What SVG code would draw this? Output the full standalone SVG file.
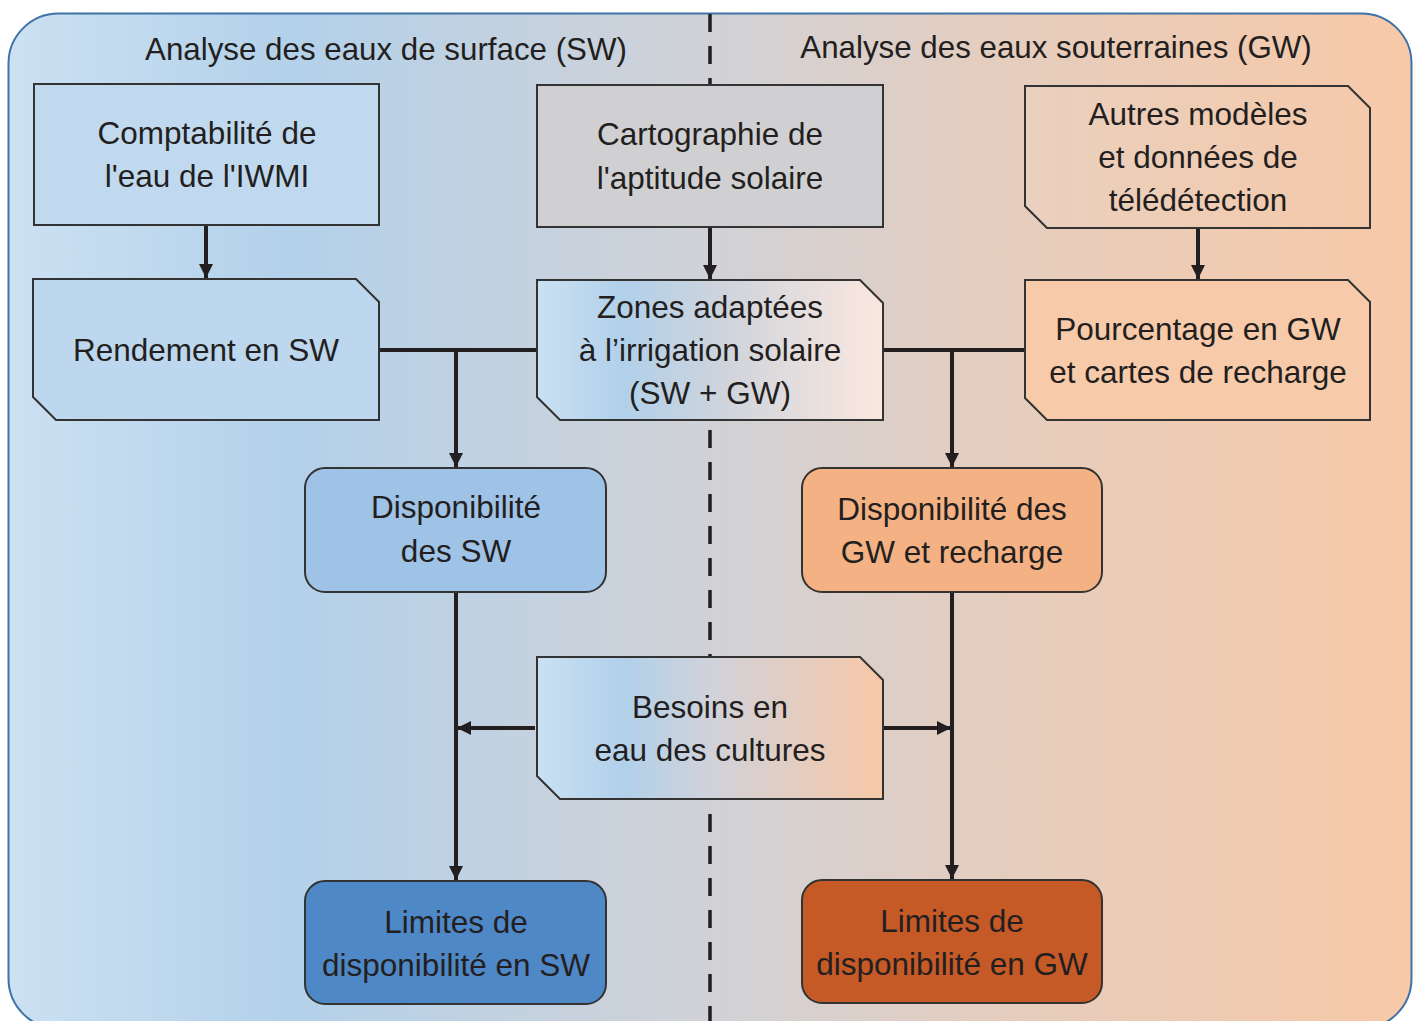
<svg xmlns="http://www.w3.org/2000/svg" width="1418" height="1021" viewBox="0 0 1418 1021">
<defs>
<linearGradient id="bg" gradientUnits="userSpaceOnUse" x1="8" y1="0" x2="1412" y2="0">
<stop offset="0" stop-color="#cce1f2"/>
<stop offset="0.2" stop-color="#b3d1ea"/>
<stop offset="0.5" stop-color="#d1d2d7"/>
<stop offset="0.72" stop-color="#e6cdbd"/>
<stop offset="1" stop-color="#f7c9a8"/>
</linearGradient>
<linearGradient id="mix1" x1="0" y1="0" x2="1" y2="0">
<stop offset="0" stop-color="#cae1f3"/>
<stop offset="0.25" stop-color="#b1d0ea"/>
<stop offset="0.55" stop-color="#d0d4dc"/>
<stop offset="1" stop-color="#fbe8df"/>
</linearGradient>
<linearGradient id="mix2" x1="0" y1="0" x2="1" y2="0">
<stop offset="0" stop-color="#cae1f3"/>
<stop offset="0.25" stop-color="#b1d0ea"/>
<stop offset="0.5" stop-color="#d0d2da"/>
<stop offset="1" stop-color="#f7c8a7"/>
</linearGradient>
<linearGradient id="peach" x1="0" y1="0" x2="1" y2="0">
<stop offset="0" stop-color="#ead0bf"/>
<stop offset="1" stop-color="#f4c9aa"/>
</linearGradient>
<marker id="ah" viewBox="0 0 10 10" refX="10" refY="5" markerWidth="3.6" markerHeight="3.6" orient="auto" markerUnits="strokeWidth">
<path d="M0,0 L10,5 L0,10 Z" fill="#231f20"/>
</marker>
</defs>
<style>
.node{stroke:#333;stroke-width:2}
.t{font-family:"Liberation Sans",Arial,sans-serif;font-size:31.5px;fill:#231f20;text-anchor:middle}
.ti{font-family:"Liberation Sans",Arial,sans-serif;font-size:31.3px;fill:#231f20;text-anchor:middle}
.c{fill:none;stroke:#231f20;stroke-width:4}
</style>
<rect x="8.5" y="13.5" width="1403" height="1015" rx="50" ry="50" fill="url(#bg)" stroke="#3f72a6" stroke-width="2"/>
<line x1="710" y1="14" x2="710" y2="1021" stroke="#231f20" stroke-width="3.5" stroke-dasharray="18 14"/>
<text class="ti" x="386" y="60">Analyse des eaux de surface (SW)</text>
<text class="ti" x="1056" y="58">Analyse des eaux souterraines (GW)</text>

<g id="connectors">
<line class="c" x1="206" y1="226" x2="206" y2="278" marker-end="url(#ah)"/>
<line class="c" x1="710" y1="228" x2="710" y2="279" marker-end="url(#ah)"/>
<line class="c" x1="1198" y1="229" x2="1198" y2="279" marker-end="url(#ah)"/>
<line class="c" x1="379" y1="350" x2="537" y2="350"/>
<line class="c" x1="456" y1="350" x2="456" y2="467" marker-end="url(#ah)"/>
<line class="c" x1="883" y1="350" x2="1025" y2="350"/>
<line class="c" x1="952" y1="350" x2="952" y2="467" marker-end="url(#ah)"/>
<line class="c" x1="456" y1="593" x2="456" y2="880" marker-end="url(#ah)"/>
<line class="c" x1="952" y1="593" x2="952" y2="879" marker-end="url(#ah)"/>
<line class="c" x1="535" y1="728" x2="457" y2="728" marker-end="url(#ah)"/>
<line class="c" x1="884" y1="728" x2="951" y2="728" marker-end="url(#ah)"/>
</g>

<g id="n-comptabilite">
<rect class="node" x="34" y="84" width="345" height="141" fill="#c0d9ef"/>
<text class="t" x="207" y="144">Comptabilité de</text>
<text class="t" x="207" y="187">l'eau de l'IWMI</text>
</g>
<g id="n-cartographie">
<rect class="node" x="537" y="85" width="346" height="142" fill="#d0d0d3"/>
<text class="t" x="710" y="145">Cartographie de</text>
<text class="t" x="710" y="189">l'aptitude solaire</text>
</g>
<g id="n-autres">
<path class="node" d="M1025,86 H1348 L1370,108 V228 H1047 L1025,206 Z" fill="url(#peach)"/>
<text class="t" x="1198" y="125">Autres modèles</text>
<text class="t" x="1198" y="168">et données de</text>
<text class="t" x="1198" y="211">télédétection</text>
</g>
<g id="n-rendement">
<path class="node" d="M33,279 H356 L379,302 V420 H56 L33,397 Z" fill="#bcd7ee"/>
<text class="t" x="206" y="361">Rendement en SW</text>
</g>
<g id="n-zones">
<path class="node" d="M537,280 H860 L883,303 V420 H560 L537,397 Z" fill="url(#mix1)"/>
<text class="t" x="710" y="318">Zones adaptées</text>
<text class="t" x="710" y="361">à l’irrigation solaire</text>
<text class="t" x="710" y="404">(SW + GW)</text>
</g>
<g id="n-pourcentage">
<path class="node" d="M1025,280 H1348 L1370,302 V420 H1047 L1025,398 Z" fill="#f7cba9"/>
<text class="t" x="1198" y="340">Pourcentage en GW</text>
<text class="t" x="1198" y="383">et cartes de recharge</text>
</g>
<g id="n-dispo-sw">
<rect class="node" x="305" y="468" width="301" height="124" rx="20" ry="20" fill="#9fc3e6"/>
<text class="t" x="456" y="518">Disponibilité</text>
<text class="t" x="456" y="562">des SW</text>
</g>
<g id="n-dispo-gw">
<rect class="node" x="802" y="468" width="300" height="124" rx="20" ry="20" fill="#f4b183"/>
<text class="t" x="952" y="520">Disponibilité des</text>
<text class="t" x="952" y="563">GW et recharge</text>
</g>
<g id="n-besoins">
<path class="node" d="M537,657 H860 L883,680 V799 H560 L537,776 Z" fill="url(#mix2)"/>
<text class="t" x="710" y="718">Besoins en</text>
<text class="t" x="710" y="761">eau des cultures</text>
</g>
<g id="n-limites-sw">
<rect class="node" x="305" y="881" width="301" height="123" rx="20" ry="20" fill="#4f88c7"/>
<text class="t" x="456" y="933">Limites de</text>
<text class="t" x="456" y="976">disponibilité en SW</text>
</g>
<g id="n-limites-gw">
<rect class="node" x="802" y="880" width="300" height="123" rx="20" ry="20" fill="#c55a27"/>
<text class="t" x="952" y="932">Limites de</text>
<text class="t" x="952" y="975">disponibilité en GW</text>
</g>
</svg>
